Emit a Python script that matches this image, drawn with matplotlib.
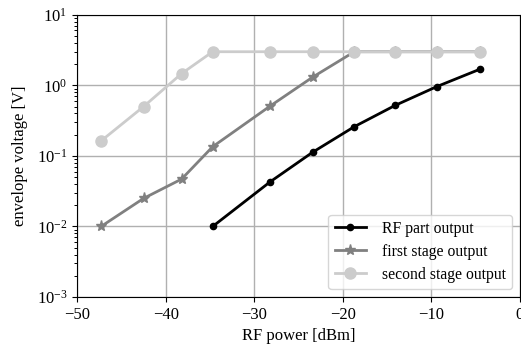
import matplotlib
matplotlib.use("Agg")
import matplotlib.pyplot as plt
from matplotlib.ticker import LogLocator, NullFormatter

plt.rcParams['font.family'] = ['Liberation Serif', 'DejaVu Serif']
plt.rcParams['mathtext.fontset'] = 'stix'

# RF input power [dBm]
rf_power = [-47.3, -42.5, -38.2, -34.7, -28.2, -23.4, -18.7, -14.1, -9.4, -4.5]

# envelope voltages [V]
rf_part_x = rf_power[3:]
rf_part = [0.010, 0.043, 0.113, 0.26, 0.52, 0.96, 1.70]
first_stage = [0.010, 0.025, 0.047, 0.135, 0.51, 1.31, 3.0, 3.0, 3.0, 3.0]
second_stage = [0.163, 0.50, 1.47, 3.0, 3.0, 3.0, 3.0, 3.0, 3.0, 3.0]

fig = plt.figure(figsize=(5.21, 3.45), dpi=100)
ax = fig.add_axes([0.148, 0.139, 0.85, 0.818])

ax.plot(rf_part_x, rf_part, color='black', marker='o', markersize=4.5,
        linewidth=2, label='RF part output')
ax.plot(rf_power, first_stage, color='#808080', marker='*', markersize=8,
        linewidth=2, label='first stage output')
ax.plot(rf_power, second_stage, color='#cccccc', marker='o', markersize=8,
        linewidth=2, label='second stage output')

ax.set_yscale('log')
ax.set_xlim(-50, 0)
ax.set_ylim(1e-3, 1e1)
ax.yaxis.set_minor_locator(LogLocator(base=10, subs=range(2, 10), numticks=20))
ax.yaxis.set_minor_formatter(NullFormatter())
ax.grid(True, which='major', color='#b0b0b0', linewidth=1)
ax.tick_params(labelsize=12)
ax.tick_params(which='minor', length=2.5, width=0.7)

ax.set_xlabel('RF power [dBm]', fontsize=12)
ax.set_ylabel('envelope voltage [V]', fontsize=12, labelpad=6)

ax.legend(loc='lower right', fontsize=11.3, handlelength=2.0,
          handletextpad=1.0, labelspacing=0.45)

fig.savefig('out.png', dpi=100)
